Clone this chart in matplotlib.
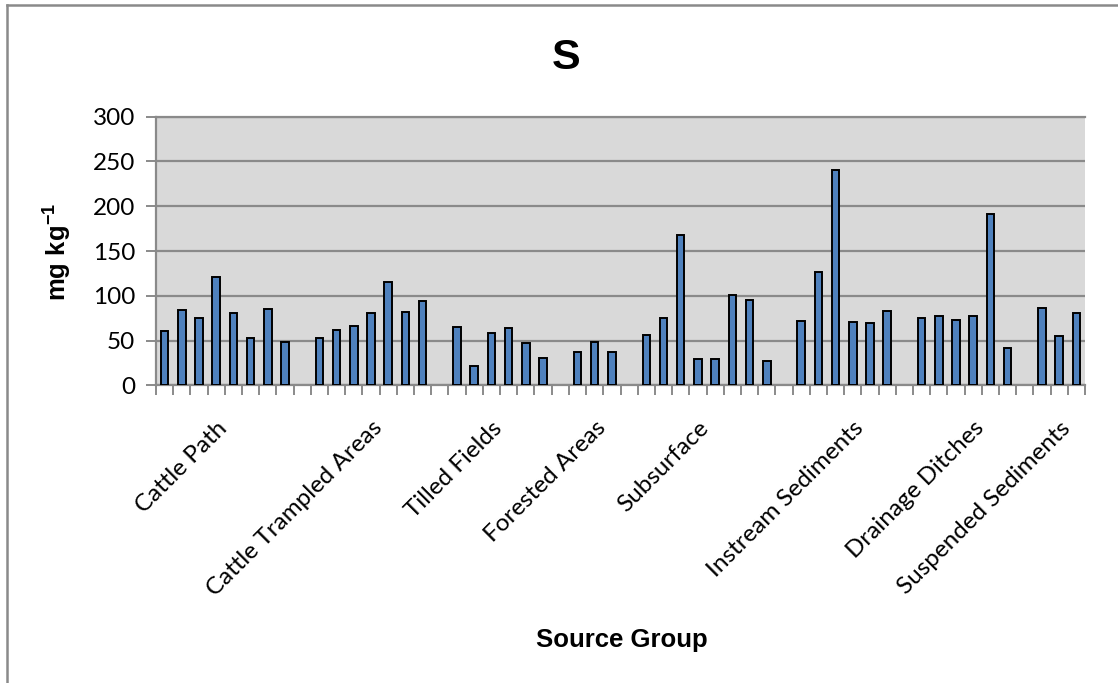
import numpy as np
import matplotlib
matplotlib.use("Agg")
import matplotlib.pyplot as plt
from matplotlib.lines import Line2D

# Sulfur concentration (mg/kg) per sample, grouped by source; an empty
# category separates consecutive groups.
cattle_path = [60.6, 84.4, 75.5, 121.0, 80.4, 52.5, 85.2, 48.0]
cattle_trampled = [53.2, 61.4, 66.6, 80.4, 115.0, 81.9, 93.8]
tilled_fields = [65.5, 21.6, 58.1, 64.4, 46.9, 30.2]
forested_areas = [37.2, 48.0, 36.9]
subsurface = [56.5, 75.2, 167.9, 29.7, 29.4, 101.2, 95.3, 27.5]
instream_sediments = [71.8, 126.9, 240.5, 70.4, 69.2, 82.6]
drainage_ditches = [74.8, 77.1, 73.3, 77.7, 191.3, 41.3]
suspended_sediments = [86.3, 55.1, 80.8]

groups = ["Cattle Path", "Cattle Trampled Areas", "Tilled Fields",
          "Forested Areas", "Subsurface", "Instream Sediments",
          "Drainage Ditches", "Suspended Sediments"]
group_values = [cattle_path, cattle_trampled, tilled_fields, forested_areas,
                subsurface, instream_sediments, drainage_ditches,
                suspended_sediments]
# category index (within each group) that carries the group's label
label_offsets = [3, 3, 2, 1, 3, 3, 3, 1]

yticks = [0, 50, 100, 150, 200, 250, 300]

# Build the flat category sequence with one empty category between groups
values = []
label_pos = []
label_txt = []
for gi, (name, vals) in enumerate(zip(groups, group_values)):
    if gi > 0:
        values.append(np.nan)
    start = len(values)
    values.extend(vals)
    label_pos.append(start + label_offsets[gi])
    label_txt.append(name)
values = np.array(values, dtype=float)
n = len(values)
x = np.arange(n)

plt.rcParams["mathtext.default"] = "regular"

fig = plt.figure(figsize=(11.18, 6.83), dpi=100)
ax = fig.add_axes([156 / 1118, 1 - 385.3 / 683, (1085 - 156) / 1118,
                   (385.3 - 116.7) / 683])

grid_c = "#8a8a8a"
ax.set_facecolor("#d9d9d9")
ax.set_axisbelow(True)
ax.yaxis.grid(True, color=grid_c, linewidth=1.6)

mask = ~np.isnan(values)
ax.bar(x[mask], values[mask], width=0.44, color="#4f81bd",
       edgecolor="black", linewidth=1.4, zorder=3)

ax.set_xlim(-0.5, n - 0.5)
ax.set_ylim(0, 300)
ax.set_yticks(yticks)
ax.set_yticklabels([str(v) for v in yticks], fontfamily="Lato", fontsize=17.5)

# tick marks on category boundaries, labels at the chosen categories
ax.set_xticks(np.arange(n + 1) - 0.5, minor=True)
ax.set_xticks(label_pos)
ax.set_xticklabels(label_txt, rotation=45, ha="right", va="top",
                   rotation_mode="anchor", fontfamily="Lato", fontsize=17.5)
ax.tick_params(axis="x", which="major", length=0, pad=23)
ax.tick_params(axis="x", which="minor", length=7, width=1.4, color=grid_c)
ax.tick_params(axis="y", length=7, width=1.4, color=grid_c, pad=8)

ax.spines["right"].set_visible(False)
for side in ("top", "left", "bottom"):
    ax.spines[side].set_color(grid_c)
    ax.spines[side].set_linewidth(1.6)

fig.text(566 / 1118, 1 - 58 / 683, "S", ha="center", va="center",
         fontfamily="Liberation Sans", fontweight="bold", fontstyle="normal",
         fontsize=31)
fig.text(58 / 1118, 1 - 252 / 683, r"mg kg$^{-1}$", rotation=90,
         ha="center", va="center", fontfamily="Liberation Sans",
         fontweight="bold", fontsize=18.5)
fig.text(622 / 1118, 1 - 640 / 683, "Source Group", ha="center",
         va="center", fontfamily="Liberation Sans", fontweight="bold",
         fontsize=18.5)

# chart-area border (left and top edges)
fig.add_artist(Line2D([7 / 1118, 7 / 1118], [0, 1 - 5 / 683],
                      transform=fig.transFigure, color="#8a8a8a", lw=1.8))
fig.add_artist(Line2D([7 / 1118, 1], [1 - 5 / 683, 1 - 5 / 683],
                      transform=fig.transFigure, color="#8a8a8a", lw=1.8))

fig.savefig("out.png", dpi=100, facecolor="white")
